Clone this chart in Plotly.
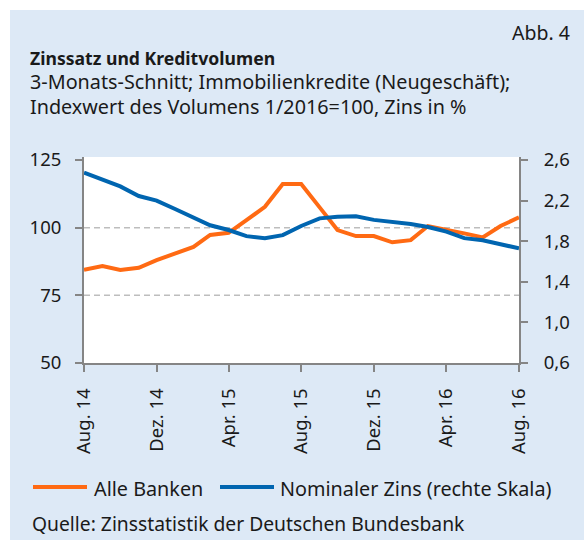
import pandas as pd
import plotly.graph_objects as go

months = pd.date_range("2014-08-01", "2016-08-01", freq="MS")
alle_banken = [84.4, 85.8, 84.4, 85.2, 88.0, 90.6, 92.9, 97.3, 98.1, 102.8, 107.7, 116.1, 116.1,
               107.5, 99.1, 96.9, 96.9, 94.6, 95.4, 100.6, 99.4, 97.9, 96.4, 100.6, 103.8]
nominaler_zins = [2.475, 2.41, 2.34, 2.245, 2.2, 2.117, 2.035, 1.957, 1.91, 1.85, 1.83, 1.86, 1.95,
                  2.025, 2.04, 2.045, 2.01, 1.99, 1.97, 1.94, 1.895, 1.83, 1.81, 1.77, 1.73]
x_tickvals = ["2014-08-01", "2014-12-01", "2015-04-01", "2015-08-01", "2015-12-01", "2016-04-01", "2016-08-01"]
x_ticktext = ["Aug. 14", "Dez. 14", "Apr. 15", "Aug. 15", "Dez. 15", "Apr. 16", "Aug. 16"]
left_ticks = [50, 75, 100, 125]
right_ticks = [0.6, 1.0, 1.4, 1.8, 2.2, 2.6]
right_ticktext = ["0,6", "1,0", "1,4", "1,8", "2,2", "2,6"]
grid_vals = [75, 100]
series_names = ["Alle Banken", "Nominaler Zins (rechte Skala)"]

W, H = 584, 540
L, R, T, B = 84, 519, 157, 363
FONT = "Noto Sans"
ORANGE = "#ff6a13"
BLUE = "#0065b0"
PANEL = "#dde9f6"
AXIS = "#858585"
TXT = "#1a1a1a"


def px(x):
    return (x - L) / (R - L)


def py(y):
    return (B - y) / (B - T)


fig = go.Figure()
fig.add_trace(go.Scatter(x=months, y=alle_banken, name=series_names[0], mode="lines",
                         line=dict(color=ORANGE, width=4), yaxis="y", showlegend=False))
fig.add_trace(go.Scatter(x=months, y=nominaler_zins, name=series_names[1], mode="lines",
                         line=dict(color=BLUE, width=4), yaxis="y2", showlegend=False))

shapes = [
    dict(type="rect", xref="paper", yref="paper", x0=px(10), x1=px(600), y0=py(560), y1=py(10),
         fillcolor=PANEL, line=dict(width=0), layer="below"),
    dict(type="rect", xref="paper", yref="paper", x0=0, x1=1, y0=0, y1=1,
         fillcolor="white", line=dict(width=0), layer="below"),
]
for g in grid_vals:
    shapes.append(dict(type="line", xref="paper", yref="y", x0=0, x1=1, y0=g, y1=g,
                       line=dict(color="#bdbdbd", width=1.5, dash="6px,4px"), layer="below"))

# manual legend
legend_items = [(33, 87, 92, ORANGE, series_names[0]), (220, 274, 278, BLUE, series_names[1])]
annotations = []
for x0, x1, tx, col, name in legend_items:
    shapes.append(dict(type="line", xref="paper", yref="paper", x0=px(x0), x1=px(x1), y0=py(487), y1=py(487),
                       line=dict(color=col, width=4)))
    annotations.append(dict(text=name, xref="paper", yref="paper", x=px(tx), y=py(488), xanchor="left",
                            yanchor="middle", showarrow=False, font=dict(size=19.8)))

top_left = 50 + 75 * (B - T) / 203
top_right = 0.6 + 2 * (B - T) / 203

annotations += [
    dict(text="Abb. 4", xref="paper", yref="paper", x=px(572), y=py(32), xanchor="right",
         yanchor="middle", showarrow=False, font=dict(size=19.5)),
    dict(text="<b>Zinssatz und Kreditvolumen</b>", xref="paper", yref="paper", x=px(28), y=py(58),
         xanchor="left", yanchor="middle", showarrow=False, font=dict(size=17.6)),
    dict(text="3-Monats-Schnitt; Immobilienkredite (Neugeschäft);", xref="paper", yref="paper",
         x=px(28), y=py(82), xanchor="left", yanchor="middle", showarrow=False, font=dict(size=19.8)),
    dict(text="Indexwert des Volumens 1/2016=100, Zins in %", xref="paper", yref="paper",
         x=px(28), y=py(106), xanchor="left", yanchor="middle", showarrow=False, font=dict(size=19.8)),
    dict(text="Quelle: Zinsstatistik der Deutschen Bundesbank", xref="paper", yref="paper",
         x=px(30), y=py(523), xanchor="left", yanchor="middle", showarrow=False, font=dict(size=19.3)),
]

axis_common = dict(ticks="outside", ticklen=7, tickcolor=AXIS, tickwidth=2, showline=True,
                   linecolor=AXIS, linewidth=2, showgrid=False, zeroline=False,
                   tickfont=dict(size=18.5, color=TXT))

fig.update_layout(
    width=W, height=H,
    margin=dict(l=L, r=W - R, t=T, b=H - B, pad=0),
    paper_bgcolor="white", plot_bgcolor="white",
    font=dict(family=FONT, size=18, color=TXT),
    showlegend=False,
    xaxis=dict(range=[months[0], months[-1]], tickvals=x_tickvals, ticktext=x_ticktext,
               tickangle=-90, ticklabelstandoff=9, **axis_common),
    yaxis=dict(range=[50, top_left], tickvals=left_ticks, ticklabelstandoff=10, **axis_common),
    yaxis2=dict(range=[0.6, top_right], tickvals=right_ticks, ticktext=right_ticktext, overlaying="y",
                side="right", ticklabelstandoff=12, **axis_common),
    shapes=shapes,
    annotations=annotations,
)

fig.write_html("out.html", config={"displayModeBar": False},
               post_script="document.body.style.margin='0';document.body.style.overflow='hidden';")
